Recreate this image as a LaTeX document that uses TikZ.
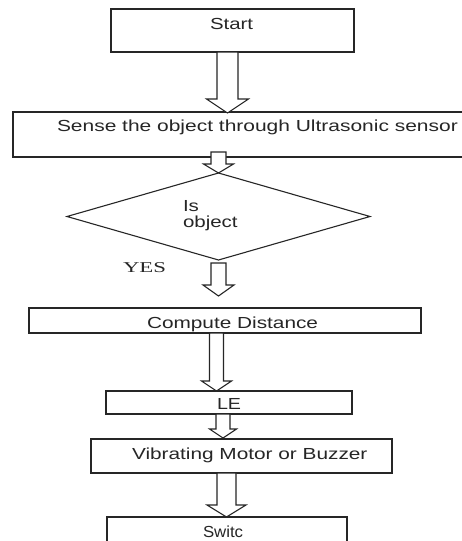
\documentclass[tikz,border=0pt]{standalone}
\usepackage{fontspec}
\setmainfont{Liberation Sans}
\newfontfamily\serifface{Liberation Serif}
\usepackage{graphicx}
\usetikzlibrary{shapes.geometric,calc}

% horizontally widened text
\newcommand\stretched[2][1.3]{\scalebox{#1}[1]{#2}}

% hollow block arrow: #1 x centre, #2 source point, #3 tip point,
% #4 shaft half-width, #5 head half-width, #6 head length
\newcommand\blockarrow[6]{%
  \draw[arrowbody] let \p1=#2, \p2=#3 in
    ({(#1-#4)*1pt},\y1) -- ({(#1-#4)*1pt},\y2+#6pt) -- ({(#1-#5)*1pt},\y2+#6pt)
    -- ({#1*1pt},\y2) -- ({(#1+#5)*1pt},\y2+#6pt) -- ({(#1+#4)*1pt},\y2+#6pt)
    -- ({(#1+#4)*1pt},\y1) -- cycle;}

\begin{document}
\begin{tikzpicture}[x=1pt,y=-1pt,
  procbox/.style={draw=black!85, line width=1.1pt, fill=white, inner sep=0pt, outer sep=0pt},
  arrowbody/.style={draw=black!85, line width=1.1pt, fill=white, line join=miter},
  lbl/.style={inner sep=0pt, outer sep=0pt, text=black!85, font=\fontsize{16}{16}\selectfont}]

\useasboundingbox (0,0) rectangle (462,541);
\clip (0,0) rectangle (462,541);
\fill[white] (0,0) rectangle (462,541);

% process boxes
\node[procbox, minimum width=243pt, minimum height=43pt] (start) at (232.5,30.5) {};
\node[procbox, minimum width=467pt, minimum height=45pt] (sense) at (246.5,134.5) {};
\node[procbox, diamond, minimum width=303pt, minimum height=87pt] (cond) at (218.5,216.5) {};
\node[procbox, minimum width=392pt, minimum height=25pt] (compute) at (225,320.5) {};
\node[procbox, minimum width=246pt, minimum height=23pt] (led) at (229,402.5) {};
\node[procbox, minimum width=301pt, minimum height=34pt] (vib) at (241.5,456) {};
\node[procbox, minimum width=240pt, minimum height=48pt] (sw) at (227,541) {};

% block arrows between the steps
\blockarrow{227.5}{(start.south)}{([yshift=-1pt]sense.north)}{10.5}{21}{14}
\blockarrow{218.5}{([yshift=5pt]sense.south)}{(cond.north)}{7.5}{15}{9}
\blockarrow{218.5}{([yshift=-3pt]cond.south)}{([yshift=12pt]compute.north)}{7.5}{15.5}{11}
\blockarrow{216.5}{(compute.south)}{(led.north)}{7}{15}{10}
\blockarrow{223}{(led.south)}{([yshift=1pt]vib.north)}{7}{13.5}{9}
\blockarrow{226.5}{(vib.south)}{(sw.north)}{9.5}{19.5}{12}

% texts
\node[lbl, anchor=base west] (tStart) at (210,29) {\stretched[1.275]{Start}};
\node[lbl, anchor=base west] (tSense) at (57,131.5) {\stretched[1.31]{Sense the object through Ultrasonic sensor}};
\node[lbl, anchor=north west, align=left, font=\fontsize{16}{15.5}\selectfont] (tCond) at (183,200.5)
  {\stretched[1.28]{Is}\\\stretched[1.28]{object}};
\node[lbl, anchor=base west, font=\serifface\fontsize{15}{15}\selectfont] (tYes) at (123,272) {\stretched[1.52]{YES}};
\node[lbl, anchor=base west] (tCompute) at (147,328) {\stretched[1.30]{Compute Distance}};
\node[lbl, anchor=base west] (tLed) at (217,409) {\stretched[1.23]{LE}};
\node[lbl, anchor=base west] (tVib) at (132,459) {\stretched[1.30]{Vibrating Motor or Buzzer}};
\node[lbl, anchor=base west] (tSw) at (203,537) {\stretched[1.05]{Switc}};
\end{tikzpicture}
\end{document}
